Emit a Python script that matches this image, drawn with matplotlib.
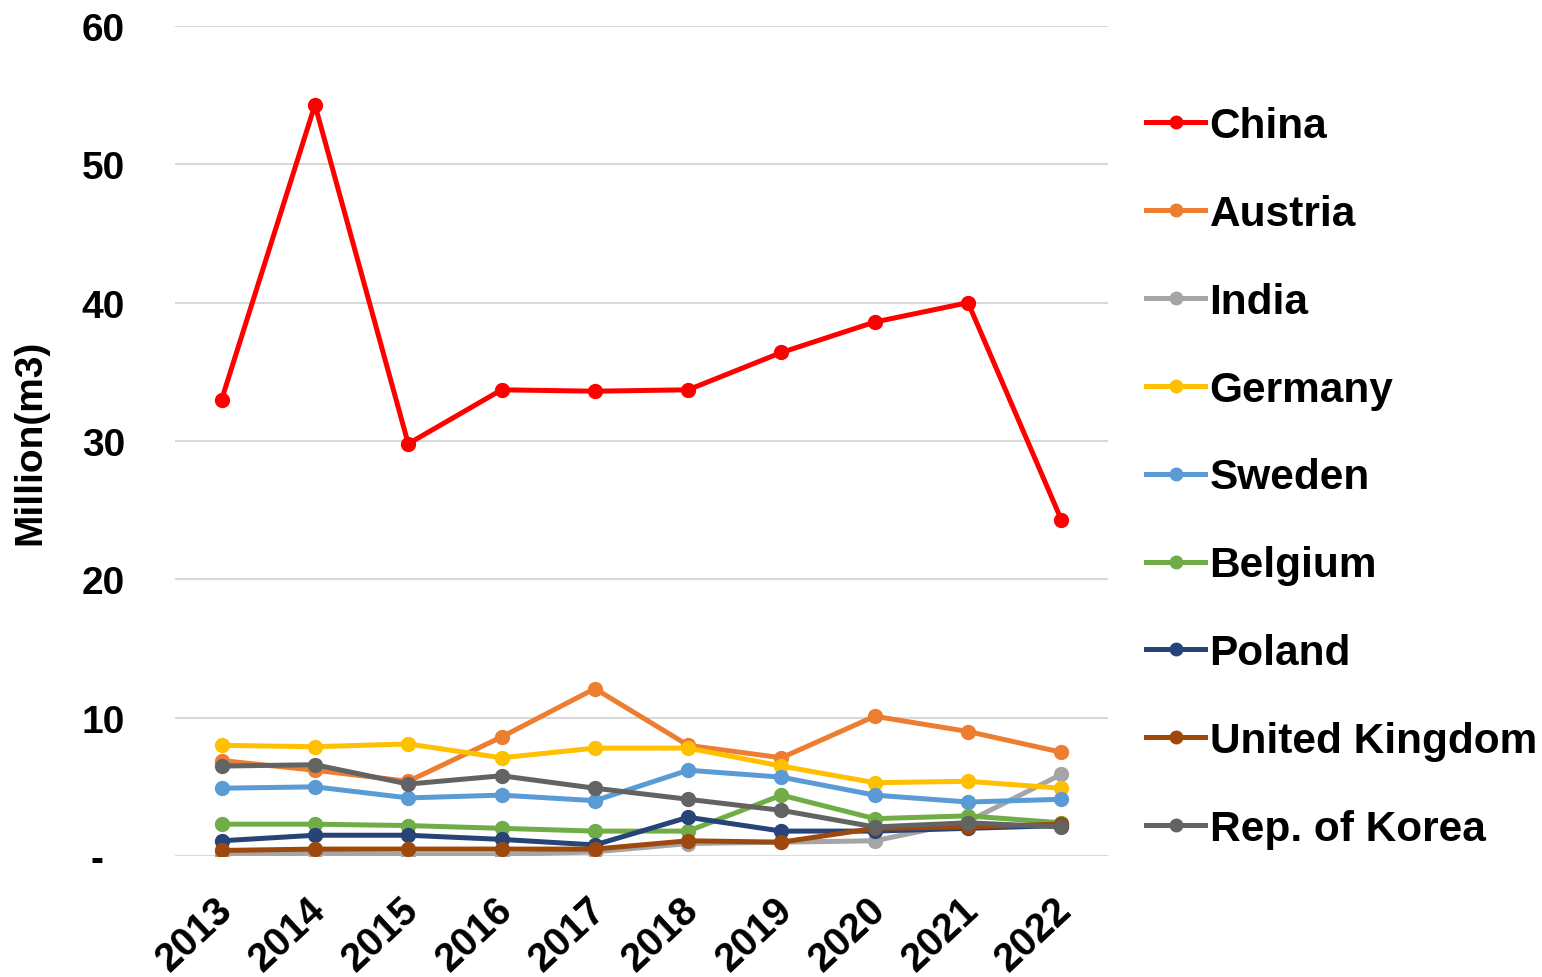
import matplotlib
matplotlib.use("Agg")
import matplotlib.pyplot as plt
from matplotlib.transforms import ScaledTranslation

years = ["2013", "2014", "2015", "2016", "2017", "2018", "2019", "2020", "2021", "2022"]

china = [33.0, 54.3, 29.8, 33.7, 33.6, 33.7, 36.4, 38.6, 40.0, 24.3]
austria = [6.9, 6.2, 5.4, 8.6, 12.1, 8.0, 7.1, 10.1, 9.0, 7.5]
india = [0.1, 0.2, 0.1, 0.1, 0.3, 0.9, 1.0, 1.1, 2.5, 5.9]
germany = [8.0, 7.9, 8.1, 7.1, 7.8, 7.8, 6.5, 5.3, 5.4, 4.9]
sweden = [4.9, 5.0, 4.2, 4.4, 4.0, 6.2, 5.7, 4.4, 3.9, 4.1]
belgium = [2.3, 2.3, 2.2, 2.0, 1.8, 1.8, 4.4, 2.7, 2.9, 2.4]
poland = [1.1, 1.5, 1.5, 1.2, 0.8, 2.8, 1.8, 1.8, 2.0, 2.2]
uk = [0.4, 0.5, 0.5, 0.5, 0.5, 1.1, 1.0, 2.0, 2.1, 2.3]
korea = [6.5, 6.6, 5.2, 5.8, 4.9, 4.1, 3.3, 2.1, 2.4, 2.1]

series_names = ["China", "Austria", "India", "Germany", "Sweden", "Belgium",
                "Poland", "United Kingdom", "Rep. of Korea"]
series_values = [china, austria, india, germany, sweden, belgium, poland, uk, korea]
series_colors = ["#FF0000", "#ED7D31", "#A5A5A5", "#FFC000", "#5B9BD5",
                 "#70AD47", "#264478", "#9E480E", "#636363"]

yticks = [0, 10, 20, 30, 40, 50, 60]
ytick_labels = ["-  ", "10", "20", "30", "40", "50", "60"]

plt.rcParams["font.family"] = ["Liberation Sans", "DejaVu Sans"]
plt.rcParams["font.weight"] = "bold"

fig = plt.figure(figsize=(15.42, 9.78), dpi=100)
ax = fig.add_axes([175 / 1542, 1 - 857 / 978, (1108 - 175) / 1542, (857 - 27) / 978])

x = list(range(len(years)))
lines = []
for name, vals, col in zip(series_names, series_values, series_colors):
    ln, = ax.plot(x, vals, color=col, lw=3.6, marker="o", ms=10, label=name,
                  solid_joinstyle="round", zorder=3)
    lines.append(ln)

ax.set_xlim(-0.5, len(years) - 0.5)
ax.set_ylim(0, 60)
ax.set_yticks(yticks)
ax.set_yticklabels(ytick_labels)
ax.set_xticks(x)
ax.set_xticklabels(years, rotation=43, ha="right", rotation_mode="anchor")
ax.tick_params(axis="both", length=0)
ax.tick_params(axis="y", pad=36, labelsize=28)
ax.tick_params(axis="x", pad=24, labelsize=28.5)
off = ScaledTranslation(-8 / 100, 0, fig.dpi_scale_trans)
for lab in ax.get_xticklabels():
    lab.set_transform(lab.get_transform() + off)
for lab in ax.get_xticklabels() + ax.get_yticklabels():
    lab.set_fontweight("bold")

ax.grid(axis="y", color="#D9D9D9", lw=1.5, zorder=0)
for s in ax.spines.values():
    s.set_visible(False)

ax.set_ylabel("Million(m3)", fontsize=28, fontweight="bold")
ax.yaxis.set_label_coords(-0.136, 0.5)

leg = fig.legend(handles=lines, loc="upper left", bbox_to_anchor=(1146 / 1542, 1 - 107 / 978),
                 frameon=False, fontsize=30.5, handlelength=1.4, handletextpad=0.1,
                 labelspacing=1.13, borderaxespad=0, borderpad=0)
for t in leg.get_texts():
    t.set_fontweight("bold")
for h in leg.legend_handles:
    h.set_markersize(9)

fig.savefig("out.png", dpi=100)
